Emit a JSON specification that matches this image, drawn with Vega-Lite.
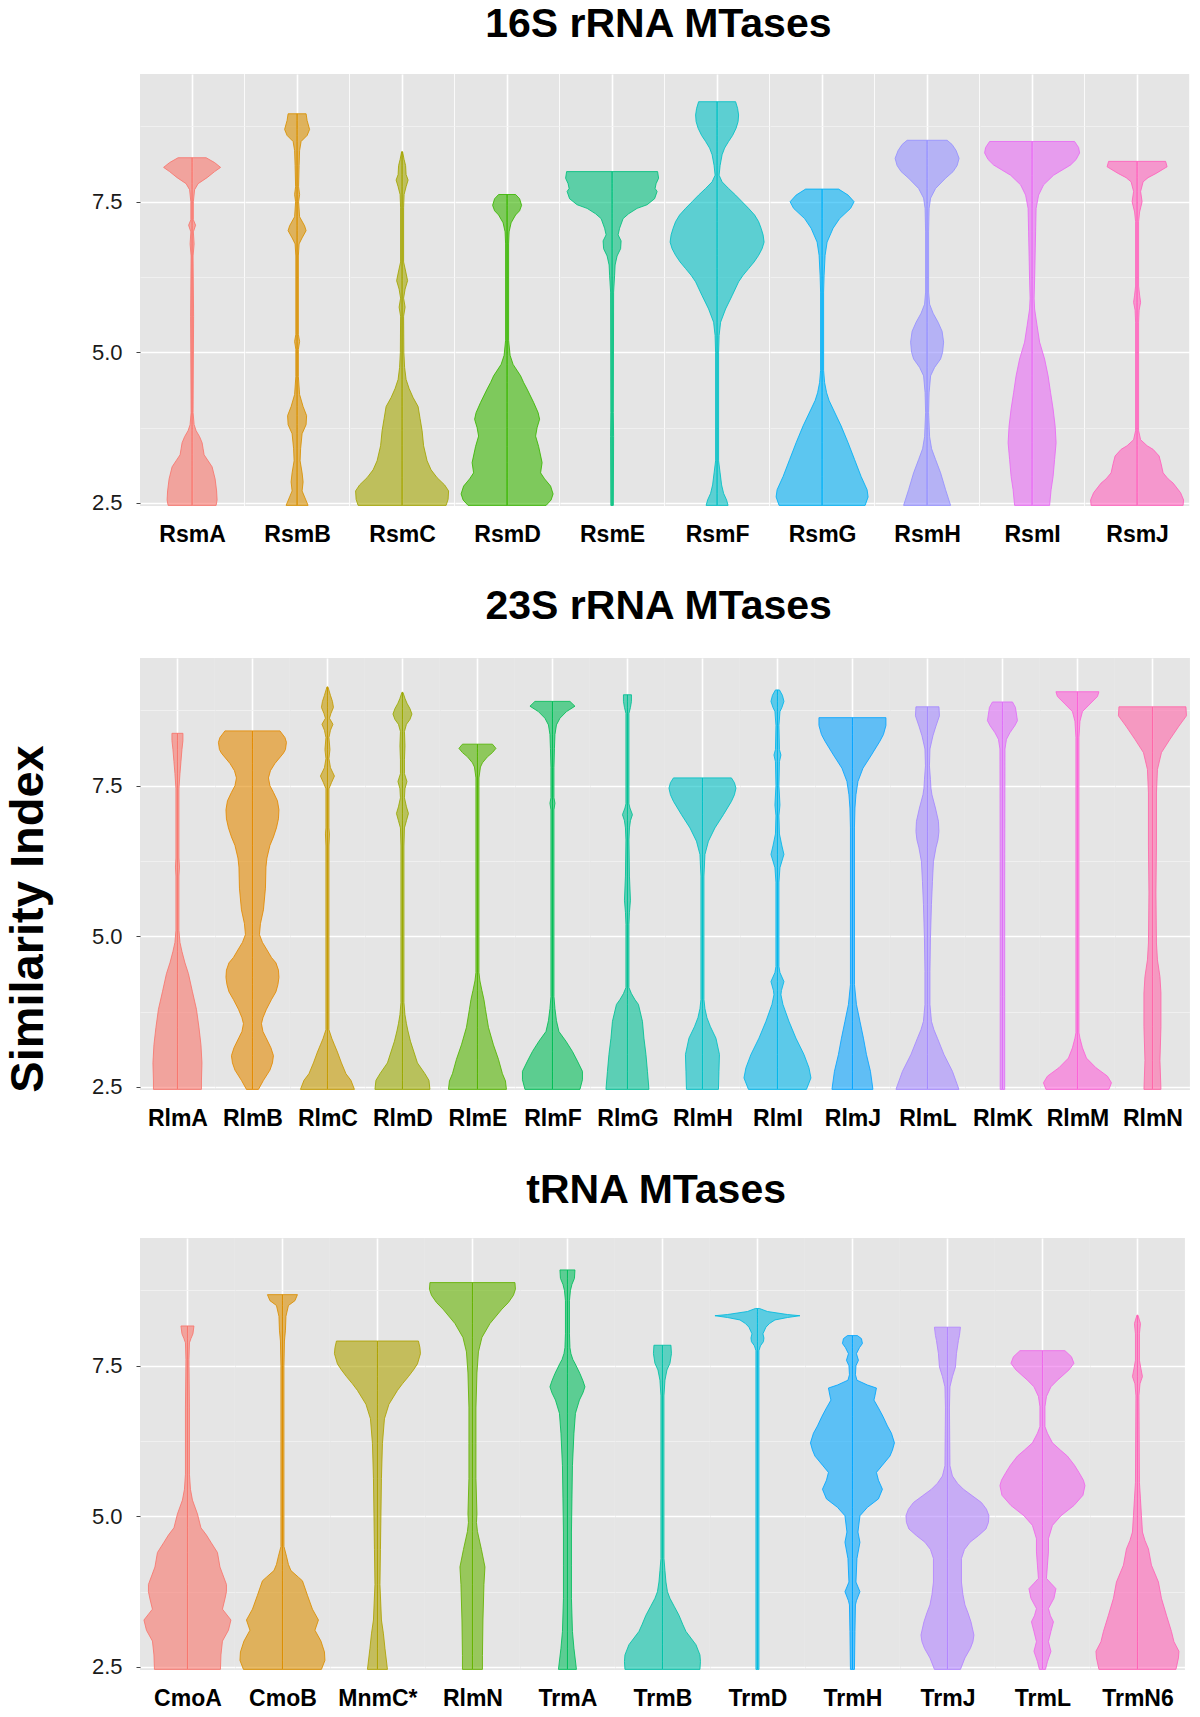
{
"$schema": "https://vega.github.io/schema/vega-lite/v6.json",
"background": "white",
"padding": {"left": 5, "top": 4, "right": 0, "bottom": 0},
"title": {"text": "Similarity Index", "orient": "left", "anchor": "middle", "fontSize": 47, "fontWeight": "bold", "color": "#000", "font": "Liberation Sans", "offset": 38, "dx": -62},
"datasets": {
"p1": [
{"g":"RsmA","y":8.23,"w":28},{"g":"RsmA","y":8.15,"w":45},{"g":"RsmA","y":8.07,"w":57},{"g":"RsmA","y":8.0,"w":45},{"g":"RsmA","y":7.9,"w":30},{"g":"RsmA","y":7.8,"w":12},{"g":"RsmA","y":7.7,"w":5},{"g":"RsmA","y":7.5,"w":2.5},{"g":"RsmA","y":7.2,"w":2.5},{"g":"RsmA","y":7.11,"w":7},{"g":"RsmA","y":7.0,"w":2.5},{"g":"RsmA","y":6.8,"w":4},{"g":"RsmA","y":6.6,"w":2},{"g":"RsmA","y":5.6,"w":3},{"g":"RsmA","y":4.0,"w":2},{"g":"RsmA","y":3.8,"w":4},{"g":"RsmA","y":3.7,"w":8},{"g":"RsmA","y":3.6,"w":15},{"g":"RsmA","y":3.5,"w":20},{"g":"RsmA","y":3.4,"w":22},{"g":"RsmA","y":3.3,"w":24},{"g":"RsmA","y":3.2,"w":32},{"g":"RsmA","y":3.1,"w":40},{"g":"RsmA","y":2.9,"w":46},{"g":"RsmA","y":2.7,"w":49},{"g":"RsmA","y":2.55,"w":50},{"g":"RsmA","y":2.46,"w":48},
{"g":"RsmB","y":8.96,"w":18},{"g":"RsmB","y":8.85,"w":20},{"g":"RsmB","y":8.7,"w":25},{"g":"RsmB","y":8.6,"w":20},{"g":"RsmB","y":8.5,"w":8},{"g":"RsmB","y":8.35,"w":5},{"g":"RsmB","y":8.1,"w":4},{"g":"RsmB","y":7.75,"w":3},{"g":"RsmB","y":7.62,"w":5},{"g":"RsmB","y":7.5,"w":3},{"g":"RsmB","y":7.25,"w":5},{"g":"RsmB","y":7.1,"w":15},{"g":"RsmB","y":7.02,"w":18},{"g":"RsmB","y":6.9,"w":10},{"g":"RsmB","y":6.8,"w":4},{"g":"RsmB","y":6.6,"w":2.5},{"g":"RsmB","y":5.3,"w":2.5},{"g":"RsmB","y":5.18,"w":5},{"g":"RsmB","y":5.05,"w":2.5},{"g":"RsmB","y":4.6,"w":2.5},{"g":"RsmB","y":4.3,"w":5},{"g":"RsmB","y":4.1,"w":12},{"g":"RsmB","y":3.95,"w":19},{"g":"RsmB","y":3.8,"w":18},{"g":"RsmB","y":3.65,"w":10},{"g":"RsmB","y":3.4,"w":7},{"g":"RsmB","y":3.2,"w":6},{"g":"RsmB","y":3.0,"w":10},{"g":"RsmB","y":2.85,"w":12},{"g":"RsmB","y":2.7,"w":10},{"g":"RsmB","y":2.6,"w":15},{"g":"RsmB","y":2.46,"w":22},
{"g":"RsmC","y":8.33,"w":1},{"g":"RsmC","y":8.2,"w":4},{"g":"RsmC","y":8.1,"w":7},{"g":"RsmC","y":7.95,"w":8},{"g":"RsmC","y":7.86,"w":12},{"g":"RsmC","y":7.75,"w":8},{"g":"RsmC","y":7.62,"w":4},{"g":"RsmC","y":7.4,"w":3},{"g":"RsmC","y":6.5,"w":3},{"g":"RsmC","y":6.35,"w":7},{"g":"RsmC","y":6.19,"w":11},{"g":"RsmC","y":6.05,"w":6},{"g":"RsmC","y":5.9,"w":3},{"g":"RsmC","y":5.75,"w":6},{"g":"RsmC","y":5.6,"w":3},{"g":"RsmC","y":5.0,"w":3.5},{"g":"RsmC","y":4.75,"w":5},{"g":"RsmC","y":4.55,"w":8},{"g":"RsmC","y":4.4,"w":14},{"g":"RsmC","y":4.25,"w":22},{"g":"RsmC","y":4.1,"w":32},{"g":"RsmC","y":3.9,"w":36},{"g":"RsmC","y":3.7,"w":40},{"g":"RsmC","y":3.45,"w":43},{"g":"RsmC","y":3.2,"w":50},{"g":"RsmC","y":3.05,"w":58},{"g":"RsmC","y":2.92,"w":70},{"g":"RsmC","y":2.8,"w":85},{"g":"RsmC","y":2.7,"w":93},{"g":"RsmC","y":2.56,"w":92},{"g":"RsmC","y":2.46,"w":88},
{"g":"RsmD","y":7.62,"w":17},{"g":"RsmD","y":7.55,"w":25},{"g":"RsmD","y":7.44,"w":29},{"g":"RsmD","y":7.35,"w":25},{"g":"RsmD","y":7.28,"w":17},{"g":"RsmD","y":7.15,"w":8},{"g":"RsmD","y":7.0,"w":4},{"g":"RsmD","y":6.8,"w":3},{"g":"RsmD","y":5.2,"w":3},{"g":"RsmD","y":4.95,"w":6},{"g":"RsmD","y":4.8,"w":12},{"g":"RsmD","y":4.61,"w":27},{"g":"RsmD","y":4.5,"w":33},{"g":"RsmD","y":4.39,"w":40},{"g":"RsmD","y":4.17,"w":53},{"g":"RsmD","y":4.0,"w":62},{"g":"RsmD","y":3.89,"w":65},{"g":"RsmD","y":3.75,"w":60},{"g":"RsmD","y":3.61,"w":57},{"g":"RsmD","y":3.44,"w":63},{"g":"RsmD","y":3.17,"w":70},{"g":"RsmD","y":3.0,"w":67},{"g":"RsmD","y":2.9,"w":75},{"g":"RsmD","y":2.78,"w":87},{"g":"RsmD","y":2.65,"w":92},{"g":"RsmD","y":2.55,"w":88},{"g":"RsmD","y":2.46,"w":78},
{"g":"RsmE","y":8.0,"w":91},{"g":"RsmE","y":7.89,"w":93},{"g":"RsmE","y":7.8,"w":88},{"g":"RsmE","y":7.72,"w":86},{"g":"RsmE","y":7.67,"w":90},{"g":"RsmE","y":7.55,"w":85},{"g":"RsmE","y":7.45,"w":70},{"g":"RsmE","y":7.39,"w":50},{"g":"RsmE","y":7.3,"w":33},{"g":"RsmE","y":7.22,"w":22},{"g":"RsmE","y":7.06,"w":15},{"g":"RsmE","y":6.95,"w":12},{"g":"RsmE","y":6.85,"w":18},{"g":"RsmE","y":6.72,"w":17},{"g":"RsmE","y":6.6,"w":10},{"g":"RsmE","y":6.45,"w":6},{"g":"RsmE","y":6.28,"w":5},{"g":"RsmE","y":6.0,"w":3},{"g":"RsmE","y":4.0,"w":2.5},{"g":"RsmE","y":3.6,"w":3},{"g":"RsmE","y":2.46,"w":2.5},
{"g":"RsmF","y":9.16,"w":37},{"g":"RsmF","y":9.05,"w":41},{"g":"RsmF","y":8.94,"w":43},{"g":"RsmF","y":8.83,"w":42},{"g":"RsmF","y":8.72,"w":38},{"g":"RsmF","y":8.6,"w":31},{"g":"RsmF","y":8.5,"w":23},{"g":"RsmF","y":8.39,"w":15},{"g":"RsmF","y":8.28,"w":10},{"g":"RsmF","y":8.1,"w":6},{"g":"RsmF","y":7.94,"w":4},{"g":"RsmF","y":7.83,"w":10},{"g":"RsmF","y":7.72,"w":23},{"g":"RsmF","y":7.61,"w":37},{"g":"RsmF","y":7.5,"w":50},{"g":"RsmF","y":7.39,"w":63},{"g":"RsmF","y":7.28,"w":75},{"g":"RsmF","y":7.17,"w":83},{"g":"RsmF","y":7.06,"w":88},{"g":"RsmF","y":6.95,"w":92},{"g":"RsmF","y":6.83,"w":94},{"g":"RsmF","y":6.72,"w":90},{"g":"RsmF","y":6.61,"w":83},{"g":"RsmF","y":6.5,"w":74},{"g":"RsmF","y":6.39,"w":63},{"g":"RsmF","y":6.28,"w":52},{"g":"RsmF","y":6.17,"w":43},{"g":"RsmF","y":5.94,"w":30},{"g":"RsmF","y":5.72,"w":17},{"g":"RsmF","y":5.5,"w":7},{"g":"RsmF","y":5.28,"w":4},{"g":"RsmF","y":5.0,"w":3},{"g":"RsmF","y":3.2,"w":3},{"g":"RsmF","y":3.0,"w":6},{"g":"RsmF","y":2.8,"w":9},{"g":"RsmF","y":2.66,"w":13},{"g":"RsmF","y":2.55,"w":19},{"g":"RsmF","y":2.46,"w":22},
{"g":"RsmG","y":7.71,"w":33},{"g":"RsmG","y":7.61,"w":52},{"g":"RsmG","y":7.5,"w":64},{"g":"RsmG","y":7.39,"w":57},{"g":"RsmG","y":7.22,"w":35},{"g":"RsmG","y":7.06,"w":22},{"g":"RsmG","y":6.83,"w":10},{"g":"RsmG","y":6.61,"w":6},{"g":"RsmG","y":6.28,"w":4},{"g":"RsmG","y":6.0,"w":3},{"g":"RsmG","y":4.7,"w":3},{"g":"RsmG","y":4.5,"w":5},{"g":"RsmG","y":4.33,"w":9},{"g":"RsmG","y":4.2,"w":14},{"g":"RsmG","y":4.06,"w":22},{"g":"RsmG","y":3.78,"w":38},{"g":"RsmG","y":3.5,"w":52},{"g":"RsmG","y":3.22,"w":65},{"g":"RsmG","y":2.94,"w":78},{"g":"RsmG","y":2.72,"w":90},{"g":"RsmG","y":2.6,"w":92},{"g":"RsmG","y":2.46,"w":86},
{"g":"RsmH","y":8.52,"w":40},{"g":"RsmH","y":8.45,"w":50},{"g":"RsmH","y":8.35,"w":58},{"g":"RsmH","y":8.22,"w":64},{"g":"RsmH","y":8.1,"w":60},{"g":"RsmH","y":8.0,"w":52},{"g":"RsmH","y":7.89,"w":37},{"g":"RsmH","y":7.72,"w":17},{"g":"RsmH","y":7.56,"w":7},{"g":"RsmH","y":7.39,"w":4},{"g":"RsmH","y":7.0,"w":3},{"g":"RsmH","y":6.0,"w":3},{"g":"RsmH","y":5.8,"w":5},{"g":"RsmH","y":5.65,"w":12},{"g":"RsmH","y":5.5,"w":22},{"g":"RsmH","y":5.35,"w":30},{"g":"RsmH","y":5.17,"w":33},{"g":"RsmH","y":5.0,"w":31},{"g":"RsmH","y":4.89,"w":27},{"g":"RsmH","y":4.75,"w":15},{"g":"RsmH","y":4.61,"w":7},{"g":"RsmH","y":4.33,"w":4},{"g":"RsmH","y":4.0,"w":3},{"g":"RsmH","y":3.6,"w":5},{"g":"RsmH","y":3.4,"w":9},{"g":"RsmH","y":3.22,"w":17},{"g":"RsmH","y":3.0,"w":27},{"g":"RsmH","y":2.72,"w":37},{"g":"RsmH","y":2.46,"w":47},
{"g":"RsmI","y":8.5,"w":85},{"g":"RsmI","y":8.4,"w":93},{"g":"RsmI","y":8.31,"w":95},{"g":"RsmI","y":8.2,"w":88},{"g":"RsmI","y":8.11,"w":77},{"g":"RsmI","y":7.94,"w":43},{"g":"RsmI","y":7.78,"w":23},{"g":"RsmI","y":7.61,"w":13},{"g":"RsmI","y":7.39,"w":8},{"g":"RsmI","y":7.0,"w":7},{"g":"RsmI","y":6.6,"w":6},{"g":"RsmI","y":6.2,"w":5},{"g":"RsmI","y":5.9,"w":4},{"g":"RsmI","y":5.72,"w":5},{"g":"RsmI","y":5.44,"w":10},{"g":"RsmI","y":5.17,"w":15},{"g":"RsmI","y":4.89,"w":25},{"g":"RsmI","y":4.61,"w":32},{"g":"RsmI","y":4.33,"w":37},{"g":"RsmI","y":4.06,"w":42},{"g":"RsmI","y":3.78,"w":46},{"g":"RsmI","y":3.5,"w":48},{"g":"RsmI","y":3.22,"w":45},{"g":"RsmI","y":2.94,"w":42},{"g":"RsmI","y":2.72,"w":38},{"g":"RsmI","y":2.46,"w":35},
{"g":"RsmJ","y":8.17,"w":57},{"g":"RsmJ","y":8.08,"w":60},{"g":"RsmJ","y":7.97,"w":38},{"g":"RsmJ","y":7.9,"w":22},{"g":"RsmJ","y":7.83,"w":12},{"g":"RsmJ","y":7.67,"w":7},{"g":"RsmJ","y":7.5,"w":10},{"g":"RsmJ","y":7.33,"w":5},{"g":"RsmJ","y":7.17,"w":3},{"g":"RsmJ","y":6.1,"w":3},{"g":"RsmJ","y":5.95,"w":5},{"g":"RsmJ","y":5.83,"w":7},{"g":"RsmJ","y":5.7,"w":4},{"g":"RsmJ","y":5.5,"w":3},{"g":"RsmJ","y":3.7,"w":3},{"g":"RsmJ","y":3.55,"w":7},{"g":"RsmJ","y":3.45,"w":20},{"g":"RsmJ","y":3.39,"w":32},{"g":"RsmJ","y":3.28,"w":44},{"g":"RsmJ","y":3.15,"w":48},{"g":"RsmJ","y":3.0,"w":52},{"g":"RsmJ","y":2.9,"w":62},{"g":"RsmJ","y":2.83,"w":72},{"g":"RsmJ","y":2.67,"w":87},{"g":"RsmJ","y":2.55,"w":93},{"g":"RsmJ","y":2.46,"w":92}
],
"p2": [
{"g":"RlmA","y":8.37,"w":11},{"g":"RlmA","y":8.25,"w":11},{"g":"RlmA","y":8.1,"w":9},{"g":"RlmA","y":7.9,"w":7},{"g":"RlmA","y":7.7,"w":5},{"g":"RlmA","y":7.45,"w":3},{"g":"RlmA","y":6.3,"w":3},{"g":"RlmA","y":6.15,"w":4},{"g":"RlmA","y":6.0,"w":3},{"g":"RlmA","y":5.1,"w":3},{"g":"RlmA","y":4.9,"w":5},{"g":"RlmA","y":4.75,"w":9},{"g":"RlmA","y":4.56,"w":15},{"g":"RlmA","y":4.38,"w":22},{"g":"RlmA","y":4.08,"w":30},{"g":"RlmA","y":3.79,"w":38},{"g":"RlmA","y":3.49,"w":43},{"g":"RlmA","y":3.2,"w":47},{"g":"RlmA","y":2.9,"w":49},{"g":"RlmA","y":2.6,"w":48},{"g":"RlmA","y":2.46,"w":48},
{"g":"RlmB","y":8.41,"w":55},{"g":"RlmB","y":8.3,"w":65},{"g":"RlmB","y":8.22,"w":68},{"g":"RlmB","y":8.1,"w":66},{"g":"RlmB","y":8.04,"w":62},{"g":"RlmB","y":7.87,"w":45},{"g":"RlmB","y":7.75,"w":36},{"g":"RlmB","y":7.63,"w":32},{"g":"RlmB","y":7.5,"w":35},{"g":"RlmB","y":7.39,"w":42},{"g":"RlmB","y":7.25,"w":50},{"g":"RlmB","y":7.1,"w":53},{"g":"RlmB","y":6.95,"w":52},{"g":"RlmB","y":6.8,"w":48},{"g":"RlmB","y":6.65,"w":42},{"g":"RlmB","y":6.51,"w":35},{"g":"RlmB","y":6.3,"w":29},{"g":"RlmB","y":6.15,"w":27},{"g":"RlmB","y":5.8,"w":26},{"g":"RlmB","y":5.44,"w":22},{"g":"RlmB","y":5.21,"w":16},{"g":"RlmB","y":5.03,"w":14},{"g":"RlmB","y":4.9,"w":20},{"g":"RlmB","y":4.79,"w":28},{"g":"RlmB","y":4.65,"w":38},{"g":"RlmB","y":4.56,"w":47},{"g":"RlmB","y":4.44,"w":52},{"g":"RlmB","y":4.32,"w":53},{"g":"RlmB","y":4.2,"w":51},{"g":"RlmB","y":4.08,"w":47},{"g":"RlmB","y":3.95,"w":38},{"g":"RlmB","y":3.79,"w":28},{"g":"RlmB","y":3.65,"w":21},{"g":"RlmB","y":3.55,"w":18},{"g":"RlmB","y":3.42,"w":21},{"g":"RlmB","y":3.32,"w":27},{"g":"RlmB","y":3.15,"w":37},{"g":"RlmB","y":3.02,"w":42},{"g":"RlmB","y":2.9,"w":40},{"g":"RlmB","y":2.78,"w":35},{"g":"RlmB","y":2.61,"w":22},{"g":"RlmB","y":2.46,"w":12},
{"g":"RlmC","y":9.14,"w":1},{"g":"RlmC","y":9.0,"w":6},{"g":"RlmC","y":8.9,"w":10},{"g":"RlmC","y":8.8,"w":12},{"g":"RlmC","y":8.7,"w":7},{"g":"RlmC","y":8.62,"w":4},{"g":"RlmC","y":8.52,"w":11},{"g":"RlmC","y":8.42,"w":6},{"g":"RlmC","y":8.3,"w":3},{"g":"RlmC","y":8.1,"w":5},{"g":"RlmC","y":7.95,"w":3},{"g":"RlmC","y":7.8,"w":6},{"g":"RlmC","y":7.66,"w":14},{"g":"RlmC","y":7.55,"w":8},{"g":"RlmC","y":7.45,"w":3},{"g":"RlmC","y":6.8,"w":3},{"g":"RlmC","y":6.7,"w":4},{"g":"RlmC","y":6.5,"w":3},{"g":"RlmC","y":3.45,"w":3},{"g":"RlmC","y":3.3,"w":9},{"g":"RlmC","y":3.2,"w":14},{"g":"RlmC","y":3.08,"w":20},{"g":"RlmC","y":2.9,"w":28},{"g":"RlmC","y":2.72,"w":37},{"g":"RlmC","y":2.61,"w":47},{"g":"RlmC","y":2.46,"w":54},
{"g":"RlmD","y":9.05,"w":1},{"g":"RlmD","y":8.95,"w":5},{"g":"RlmD","y":8.87,"w":9},{"g":"RlmD","y":8.78,"w":15},{"g":"RlmD","y":8.69,"w":19},{"g":"RlmD","y":8.6,"w":15},{"g":"RlmD","y":8.52,"w":8},{"g":"RlmD","y":8.4,"w":4},{"g":"RlmD","y":8.16,"w":5},{"g":"RlmD","y":7.93,"w":4},{"g":"RlmD","y":7.7,"w":4},{"g":"RlmD","y":7.57,"w":9},{"g":"RlmD","y":7.45,"w":5},{"g":"RlmD","y":7.3,"w":4},{"g":"RlmD","y":7.15,"w":8},{"g":"RlmD","y":7.04,"w":12},{"g":"RlmD","y":6.92,"w":8},{"g":"RlmD","y":6.8,"w":4},{"g":"RlmD","y":6.5,"w":3},{"g":"RlmD","y":3.9,"w":3},{"g":"RlmD","y":3.7,"w":5},{"g":"RlmD","y":3.55,"w":8},{"g":"RlmD","y":3.43,"w":11},{"g":"RlmD","y":3.26,"w":16},{"g":"RlmD","y":3.08,"w":23},{"g":"RlmD","y":2.9,"w":30},{"g":"RlmD","y":2.72,"w":45},{"g":"RlmD","y":2.61,"w":53},{"g":"RlmD","y":2.46,"w":55},
{"g":"RlmE","y":8.19,"w":30},{"g":"RlmE","y":8.12,"w":37},{"g":"RlmE","y":8.05,"w":30},{"g":"RlmE","y":7.98,"w":20},{"g":"RlmE","y":7.88,"w":10},{"g":"RlmE","y":7.81,"w":6},{"g":"RlmE","y":7.63,"w":3},{"g":"RlmE","y":4.4,"w":3},{"g":"RlmE","y":4.26,"w":5},{"g":"RlmE","y":4.1,"w":9},{"g":"RlmE","y":3.95,"w":13},{"g":"RlmE","y":3.79,"w":16},{"g":"RlmE","y":3.49,"w":22},{"g":"RlmE","y":3.2,"w":32},{"g":"RlmE","y":2.96,"w":42},{"g":"RlmE","y":2.72,"w":50},{"g":"RlmE","y":2.6,"w":56},{"g":"RlmE","y":2.46,"w":58},
{"g":"RlmF","y":8.9,"w":35},{"g":"RlmF","y":8.82,"w":45},{"g":"RlmF","y":8.73,"w":28},{"g":"RlmF","y":8.62,"w":15},{"g":"RlmF","y":8.51,"w":8},{"g":"RlmF","y":8.35,"w":5},{"g":"RlmF","y":8.12,"w":4},{"g":"RlmF","y":7.8,"w":3},{"g":"RlmF","y":7.3,"w":3},{"g":"RlmF","y":7.21,"w":5},{"g":"RlmF","y":7.1,"w":3},{"g":"RlmF","y":4.0,"w":3},{"g":"RlmF","y":3.8,"w":5},{"g":"RlmF","y":3.6,"w":8},{"g":"RlmF","y":3.42,"w":13},{"g":"RlmF","y":3.26,"w":27},{"g":"RlmF","y":3.09,"w":40},{"g":"RlmF","y":2.93,"w":50},{"g":"RlmF","y":2.76,"w":60},{"g":"RlmF","y":2.62,"w":60},{"g":"RlmF","y":2.46,"w":55},
{"g":"RlmG","y":9.01,"w":8},{"g":"RlmG","y":8.9,"w":8},{"g":"RlmG","y":8.8,"w":6},{"g":"RlmG","y":8.7,"w":3},{"g":"RlmG","y":7.2,"w":3},{"g":"RlmG","y":7.13,"w":5},{"g":"RlmG","y":7.02,"w":10},{"g":"RlmG","y":6.92,"w":6},{"g":"RlmG","y":6.8,"w":4},{"g":"RlmG","y":6.6,"w":3},{"g":"RlmG","y":6.0,"w":4},{"g":"RlmG","y":5.6,"w":6},{"g":"RlmG","y":5.4,"w":4},{"g":"RlmG","y":5.2,"w":3},{"g":"RlmG","y":4.15,"w":3},{"g":"RlmG","y":4.05,"w":8},{"g":"RlmG","y":3.95,"w":15},{"g":"RlmG","y":3.87,"w":22},{"g":"RlmG","y":3.59,"w":30},{"g":"RlmG","y":3.31,"w":33},{"g":"RlmG","y":3.04,"w":37},{"g":"RlmG","y":2.76,"w":40},{"g":"RlmG","y":2.46,"w":43},
{"g":"RlmH","y":7.63,"w":58},{"g":"RlmH","y":7.55,"w":64},{"g":"RlmH","y":7.46,"w":67},{"g":"RlmH","y":7.35,"w":64},{"g":"RlmH","y":7.24,"w":58},{"g":"RlmH","y":7.02,"w":42},{"g":"RlmH","y":6.8,"w":25},{"g":"RlmH","y":6.58,"w":12},{"g":"RlmH","y":6.36,"w":5},{"g":"RlmH","y":6.0,"w":3},{"g":"RlmH","y":3.95,"w":3},{"g":"RlmH","y":3.8,"w":5},{"g":"RlmH","y":3.65,"w":9},{"g":"RlmH","y":3.5,"w":16},{"g":"RlmH","y":3.31,"w":27},{"g":"RlmH","y":3.04,"w":34},{"g":"RlmH","y":2.76,"w":33},{"g":"RlmH","y":2.46,"w":32},
{"g":"RlmI","y":9.09,"w":4},{"g":"RlmI","y":9.0,"w":10},{"g":"RlmI","y":8.9,"w":13},{"g":"RlmI","y":8.8,"w":9},{"g":"RlmI","y":8.73,"w":5},{"g":"RlmI","y":8.5,"w":3},{"g":"RlmI","y":8.1,"w":4},{"g":"RlmI","y":8.01,"w":7},{"g":"RlmI","y":7.9,"w":4},{"g":"RlmI","y":7.5,"w":3},{"g":"RlmI","y":7.18,"w":5},{"g":"RlmI","y":7.0,"w":3},{"g":"RlmI","y":6.7,"w":4},{"g":"RlmI","y":6.5,"w":9},{"g":"RlmI","y":6.36,"w":13},{"g":"RlmI","y":6.25,"w":9},{"g":"RlmI","y":6.14,"w":5},{"g":"RlmI","y":5.9,"w":3},{"g":"RlmI","y":4.5,"w":3},{"g":"RlmI","y":4.4,"w":5},{"g":"RlmI","y":4.25,"w":13},{"g":"RlmI","y":4.1,"w":8},{"g":"RlmI","y":4.03,"w":7},{"g":"RlmI","y":3.87,"w":11},{"g":"RlmI","y":3.73,"w":17},{"g":"RlmI","y":3.59,"w":23},{"g":"RlmI","y":3.31,"w":37},{"g":"RlmI","y":3.04,"w":53},{"g":"RlmI","y":2.82,"w":63},{"g":"RlmI","y":2.65,"w":67},{"g":"RlmI","y":2.46,"w":58},
{"g":"RlmJ","y":8.63,"w":67},{"g":"RlmJ","y":8.5,"w":67},{"g":"RlmJ","y":8.35,"w":62},{"g":"RlmJ","y":8.24,"w":55},{"g":"RlmJ","y":8.01,"w":38},{"g":"RlmJ","y":7.79,"w":21},{"g":"RlmJ","y":7.57,"w":11},{"g":"RlmJ","y":7.35,"w":7},{"g":"RlmJ","y":7.13,"w":5},{"g":"RlmJ","y":6.8,"w":4},{"g":"RlmJ","y":4.2,"w":4},{"g":"RlmJ","y":3.87,"w":8},{"g":"RlmJ","y":3.59,"w":15},{"g":"RlmJ","y":3.31,"w":22},{"g":"RlmJ","y":3.04,"w":28},{"g":"RlmJ","y":2.76,"w":36},{"g":"RlmJ","y":2.46,"w":41},
{"g":"RlmL","y":8.81,"w":23},{"g":"RlmL","y":8.66,"w":24},{"g":"RlmL","y":8.49,"w":17},{"g":"RlmL","y":8.33,"w":11},{"g":"RlmL","y":8.11,"w":5},{"g":"RlmL","y":7.83,"w":4},{"g":"RlmL","y":7.6,"w":6},{"g":"RlmL","y":7.46,"w":7},{"g":"RlmL","y":7.35,"w":9},{"g":"RlmL","y":7.13,"w":16},{"g":"RlmL","y":6.91,"w":22},{"g":"RlmL","y":6.74,"w":23},{"g":"RlmL","y":6.6,"w":21},{"g":"RlmL","y":6.47,"w":17},{"g":"RlmL","y":6.24,"w":12},{"g":"RlmL","y":5.91,"w":10},{"g":"RlmL","y":5.53,"w":8},{"g":"RlmL","y":4.97,"w":6},{"g":"RlmL","y":4.42,"w":5},{"g":"RlmL","y":3.87,"w":5},{"g":"RlmL","y":3.59,"w":8},{"g":"RlmL","y":3.45,"w":13},{"g":"RlmL","y":3.31,"w":20},{"g":"RlmL","y":3.04,"w":33},{"g":"RlmL","y":2.76,"w":50},{"g":"RlmL","y":2.46,"w":63},
{"g":"RlmK","y":8.89,"w":20},{"g":"RlmK","y":8.8,"w":26},{"g":"RlmK","y":8.69,"w":28},{"g":"RlmK","y":8.58,"w":30},{"g":"RlmK","y":8.5,"w":25},{"g":"RlmK","y":8.38,"w":15},{"g":"RlmK","y":8.27,"w":8},{"g":"RlmK","y":8.11,"w":5},{"g":"RlmK","y":6.0,"w":4.5},{"g":"RlmK","y":4.0,"w":4.5},{"g":"RlmK","y":2.46,"w":4.5},
{"g":"RlmM","y":9.06,"w":43},{"g":"RlmM","y":8.98,"w":40},{"g":"RlmM","y":8.84,"w":23},{"g":"RlmM","y":8.73,"w":10},{"g":"RlmM","y":8.57,"w":5},{"g":"RlmM","y":8.3,"w":3},{"g":"RlmM","y":3.4,"w":3},{"g":"RlmM","y":3.31,"w":5},{"g":"RlmM","y":3.15,"w":10},{"g":"RlmM","y":2.98,"w":18},{"g":"RlmM","y":2.82,"w":37},{"g":"RlmM","y":2.68,"w":60},{"g":"RlmM","y":2.57,"w":68},{"g":"RlmM","y":2.46,"w":63},
{"g":"RlmN","y":8.81,"w":67},{"g":"RlmN","y":8.66,"w":68},{"g":"RlmN","y":8.49,"w":53},{"g":"RlmN","y":8.27,"w":35},{"g":"RlmN","y":8.05,"w":18},{"g":"RlmN","y":7.77,"w":10},{"g":"RlmN","y":7.38,"w":8},{"g":"RlmN","y":6.5,"w":8},{"g":"RlmN","y":5.72,"w":7},{"g":"RlmN","y":4.89,"w":8},{"g":"RlmN","y":4.61,"w":10},{"g":"RlmN","y":4.33,"w":15},{"g":"RlmN","y":4.06,"w":17},{"g":"RlmN","y":3.5,"w":17},{"g":"RlmN","y":2.94,"w":15},{"g":"RlmN","y":2.46,"w":17}
],
"p3": [
{"g":"CmoA","y":8.16,"w":13},{"g":"CmoA","y":8.03,"w":11},{"g":"CmoA","y":7.95,"w":7},{"g":"CmoA","y":7.88,"w":4},{"g":"CmoA","y":7.6,"w":3},{"g":"CmoA","y":6.8,"w":4},{"g":"CmoA","y":5.7,"w":4},{"g":"CmoA","y":5.45,"w":6},{"g":"CmoA","y":5.27,"w":10},{"g":"CmoA","y":5.04,"w":20},{"g":"CmoA","y":4.81,"w":27},{"g":"CmoA","y":4.69,"w":38},{"g":"CmoA","y":4.57,"w":47},{"g":"CmoA","y":4.4,"w":60},{"g":"CmoA","y":4.16,"w":65},{"g":"CmoA","y":3.87,"w":78},{"g":"CmoA","y":3.75,"w":78},{"g":"CmoA","y":3.63,"w":75},{"g":"CmoA","y":3.46,"w":70},{"g":"CmoA","y":3.28,"w":87},{"g":"CmoA","y":3.11,"w":82},{"g":"CmoA","y":2.93,"w":70},{"g":"CmoA","y":2.7,"w":67},{"g":"CmoA","y":2.46,"w":66},
{"g":"CmoB","y":8.68,"w":30},{"g":"CmoB","y":8.58,"w":25},{"g":"CmoB","y":8.5,"w":12},{"g":"CmoB","y":8.32,"w":7},{"g":"CmoB","y":8.09,"w":6},{"g":"CmoB","y":7.91,"w":4},{"g":"CmoB","y":7.5,"w":3},{"g":"CmoB","y":4.5,"w":3},{"g":"CmoB","y":4.34,"w":8},{"g":"CmoB","y":4.2,"w":12},{"g":"CmoB","y":4.1,"w":17},{"g":"CmoB","y":3.99,"w":32},{"g":"CmoB","y":3.93,"w":40},{"g":"CmoB","y":3.69,"w":50},{"g":"CmoB","y":3.46,"w":60},{"g":"CmoB","y":3.28,"w":72},{"g":"CmoB","y":3.11,"w":65},{"g":"CmoB","y":2.93,"w":77},{"g":"CmoB","y":2.75,"w":84},{"g":"CmoB","y":2.61,"w":85},{"g":"CmoB","y":2.46,"w":78},
{"g":"MnmC*","y":7.91,"w":82},{"g":"MnmC*","y":7.8,"w":85},{"g":"MnmC*","y":7.7,"w":86},{"g":"MnmC*","y":7.53,"w":80},{"g":"MnmC*","y":7.43,"w":72},{"g":"MnmC*","y":7.32,"w":62},{"g":"MnmC*","y":7.2,"w":50},{"g":"MnmC*","y":7.09,"w":40},{"g":"MnmC*","y":6.86,"w":23},{"g":"MnmC*","y":6.62,"w":14},{"g":"MnmC*","y":6.21,"w":10},{"g":"MnmC*","y":5.63,"w":8},{"g":"MnmC*","y":5.04,"w":7},{"g":"MnmC*","y":4.45,"w":6},{"g":"MnmC*","y":3.87,"w":5},{"g":"MnmC*","y":3.28,"w":8},{"g":"MnmC*","y":3.05,"w":12},{"g":"MnmC*","y":2.81,"w":15},{"g":"MnmC*","y":2.46,"w":20},
{"g":"RlmN","y":8.88,"w":85},{"g":"RlmN","y":8.77,"w":86},{"g":"RlmN","y":8.67,"w":82},{"g":"RlmN","y":8.55,"w":72},{"g":"RlmN","y":8.44,"w":59},{"g":"RlmN","y":8.2,"w":35},{"g":"RlmN","y":7.97,"w":19},{"g":"RlmN","y":7.73,"w":12},{"g":"RlmN","y":7.38,"w":9},{"g":"RlmN","y":6.8,"w":7},{"g":"RlmN","y":6.21,"w":7},{"g":"RlmN","y":5.63,"w":7},{"g":"RlmN","y":5.04,"w":9},{"g":"RlmN","y":4.9,"w":8},{"g":"RlmN","y":4.75,"w":10},{"g":"RlmN","y":4.45,"w":18},{"g":"RlmN","y":4.16,"w":25},{"g":"RlmN","y":3.87,"w":23},{"g":"RlmN","y":3.28,"w":21},{"g":"RlmN","y":2.69,"w":20},{"g":"RlmN","y":2.46,"w":20},
{"g":"TrmA","y":9.09,"w":15},{"g":"TrmA","y":8.95,"w":14},{"g":"TrmA","y":8.85,"w":9},{"g":"TrmA","y":8.75,"w":6},{"g":"TrmA","y":8.58,"w":4},{"g":"TrmA","y":8.03,"w":4},{"g":"TrmA","y":7.8,"w":5},{"g":"TrmA","y":7.7,"w":7},{"g":"TrmA","y":7.6,"w":11},{"g":"TrmA","y":7.54,"w":15},{"g":"TrmA","y":7.37,"w":25},{"g":"TrmA","y":7.25,"w":31},{"g":"TrmA","y":7.15,"w":35},{"g":"TrmA","y":7.05,"w":31},{"g":"TrmA","y":6.93,"w":24},{"g":"TrmA","y":6.71,"w":16},{"g":"TrmA","y":6.38,"w":13},{"g":"TrmA","y":5.84,"w":10},{"g":"TrmA","y":5.29,"w":9},{"g":"TrmA","y":4.74,"w":8},{"g":"TrmA","y":4.19,"w":8},{"g":"TrmA","y":3.64,"w":8},{"g":"TrmA","y":3.09,"w":10},{"g":"TrmA","y":2.81,"w":13},{"g":"TrmA","y":2.46,"w":18},
{"g":"TrmB","y":7.84,"w":17},{"g":"TrmB","y":7.7,"w":18},{"g":"TrmB","y":7.54,"w":15},{"g":"TrmB","y":7.43,"w":9},{"g":"TrmB","y":7.26,"w":5},{"g":"TrmB","y":7.0,"w":3},{"g":"TrmB","y":4.3,"w":3},{"g":"TrmB","y":4.1,"w":5},{"g":"TrmB","y":3.91,"w":7},{"g":"TrmB","y":3.75,"w":10},{"g":"TrmB","y":3.64,"w":15},{"g":"TrmB","y":3.5,"w":24},{"g":"TrmB","y":3.36,"w":33},{"g":"TrmB","y":3.2,"w":41},{"g":"TrmB","y":3.09,"w":47},{"g":"TrmB","y":2.98,"w":57},{"g":"TrmB","y":2.87,"w":67},{"g":"TrmB","y":2.7,"w":75},{"g":"TrmB","y":2.59,"w":76},{"g":"TrmB","y":2.46,"w":75},
{"g":"TrmD","y":8.45,"w":4},{"g":"TrmD","y":8.4,"w":20},{"g":"TrmD","y":8.35,"w":60},{"g":"TrmD","y":8.33,"w":85},{"g":"TrmD","y":8.3,"w":60},{"g":"TrmD","y":8.26,"w":35},{"g":"TrmD","y":8.2,"w":24},{"g":"TrmD","y":8.14,"w":17},{"g":"TrmD","y":8.03,"w":11},{"g":"TrmD","y":7.96,"w":13},{"g":"TrmD","y":7.9,"w":12},{"g":"TrmD","y":7.83,"w":6},{"g":"TrmD","y":7.75,"w":3},{"g":"TrmD","y":2.46,"w":3},
{"g":"TrmH","y":8.0,"w":10},{"g":"TrmH","y":7.95,"w":18},{"g":"TrmH","y":7.87,"w":20},{"g":"TrmH","y":7.8,"w":14},{"g":"TrmH","y":7.7,"w":8},{"g":"TrmH","y":7.59,"w":12},{"g":"TrmH","y":7.5,"w":7},{"g":"TrmH","y":7.35,"w":6},{"g":"TrmH","y":7.26,"w":9},{"g":"TrmH","y":7.18,"w":30},{"g":"TrmH","y":7.13,"w":48},{"g":"TrmH","y":7.0,"w":45},{"g":"TrmH","y":6.93,"w":43},{"g":"TrmH","y":6.8,"w":52},{"g":"TrmH","y":6.66,"w":61},{"g":"TrmH","y":6.5,"w":70},{"g":"TrmH","y":6.38,"w":78},{"g":"TrmH","y":6.22,"w":84},{"g":"TrmH","y":6.1,"w":80},{"g":"TrmH","y":6.0,"w":75},{"g":"TrmH","y":5.85,"w":60},{"g":"TrmH","y":5.73,"w":48},{"g":"TrmH","y":5.6,"w":52},{"g":"TrmH","y":5.45,"w":60},{"g":"TrmH","y":5.29,"w":52},{"g":"TrmH","y":5.15,"w":30},{"g":"TrmH","y":5.01,"w":15},{"g":"TrmH","y":4.74,"w":11},{"g":"TrmH","y":4.57,"w":15},{"g":"TrmH","y":4.3,"w":9},{"g":"TrmH","y":3.91,"w":7},{"g":"TrmH","y":3.75,"w":15},{"g":"TrmH","y":3.6,"w":8},{"g":"TrmH","y":3.53,"w":6},{"g":"TrmH","y":3.09,"w":5},{"g":"TrmH","y":2.46,"w":4},
{"g":"TrmJ","y":8.14,"w":26},{"g":"TrmJ","y":8.0,"w":24},{"g":"TrmJ","y":7.92,"w":22},{"g":"TrmJ","y":7.7,"w":18},{"g":"TrmJ","y":7.48,"w":16},{"g":"TrmJ","y":7.32,"w":10},{"g":"TrmJ","y":7.15,"w":5},{"g":"TrmJ","y":6.8,"w":4},{"g":"TrmJ","y":5.84,"w":5},{"g":"TrmJ","y":5.67,"w":10},{"g":"TrmJ","y":5.55,"w":20},{"g":"TrmJ","y":5.45,"w":32},{"g":"TrmJ","y":5.34,"w":50},{"g":"TrmJ","y":5.23,"w":68},{"g":"TrmJ","y":5.12,"w":78},{"g":"TrmJ","y":5.01,"w":83},{"g":"TrmJ","y":4.9,"w":82},{"g":"TrmJ","y":4.79,"w":77},{"g":"TrmJ","y":4.68,"w":62},{"g":"TrmJ","y":4.57,"w":45},{"g":"TrmJ","y":4.45,"w":34},{"g":"TrmJ","y":4.3,"w":28},{"g":"TrmJ","y":3.91,"w":28},{"g":"TrmJ","y":3.7,"w":31},{"g":"TrmJ","y":3.53,"w":35},{"g":"TrmJ","y":3.4,"w":41},{"g":"TrmJ","y":3.25,"w":47},{"g":"TrmJ","y":3.03,"w":53},{"g":"TrmJ","y":2.92,"w":51},{"g":"TrmJ","y":2.81,"w":46},{"g":"TrmJ","y":2.65,"w":35},{"g":"TrmJ","y":2.46,"w":26},
{"g":"TrmL","y":7.75,"w":45},{"g":"TrmL","y":7.65,"w":58},{"g":"TrmL","y":7.54,"w":63},{"g":"TrmL","y":7.43,"w":53},{"g":"TrmL","y":7.26,"w":30},{"g":"TrmL","y":7.15,"w":17},{"g":"TrmL","y":6.99,"w":8},{"g":"TrmL","y":6.82,"w":5},{"g":"TrmL","y":6.49,"w":5},{"g":"TrmL","y":6.38,"w":10},{"g":"TrmL","y":6.22,"w":20},{"g":"TrmL","y":6.1,"w":36},{"g":"TrmL","y":6.0,"w":50},{"g":"TrmL","y":5.85,"w":64},{"g":"TrmL","y":5.73,"w":73},{"g":"TrmL","y":5.6,"w":82},{"g":"TrmL","y":5.51,"w":85},{"g":"TrmL","y":5.35,"w":81},{"g":"TrmL","y":5.18,"w":63},{"g":"TrmL","y":5.01,"w":37},{"g":"TrmL","y":4.85,"w":20},{"g":"TrmL","y":4.63,"w":12},{"g":"TrmL","y":4.41,"w":12},{"g":"TrmL","y":4.19,"w":10},{"g":"TrmL","y":3.97,"w":8},{"g":"TrmL","y":3.88,"w":18},{"g":"TrmL","y":3.8,"w":27},{"g":"TrmL","y":3.64,"w":23},{"g":"TrmL","y":3.47,"w":12},{"g":"TrmL","y":3.35,"w":16},{"g":"TrmL","y":3.25,"w":22},{"g":"TrmL","y":3.09,"w":17},{"g":"TrmL","y":2.92,"w":12},{"g":"TrmL","y":2.76,"w":17},{"g":"TrmL","y":2.59,"w":10},{"g":"TrmL","y":2.46,"w":6},
{"g":"TrmN6","y":8.34,"w":1},{"g":"TrmN6","y":8.2,"w":6},{"g":"TrmN6","y":8.03,"w":4},{"g":"TrmN6","y":7.59,"w":4},{"g":"TrmN6","y":7.45,"w":7},{"g":"TrmN6","y":7.32,"w":10},{"g":"TrmN6","y":7.2,"w":5},{"g":"TrmN6","y":7.0,"w":3},{"g":"TrmN6","y":5.56,"w":4},{"g":"TrmN6","y":5.29,"w":6},{"g":"TrmN6","y":5.01,"w":8},{"g":"TrmN6","y":4.74,"w":10},{"g":"TrmN6","y":4.6,"w":15},{"g":"TrmN6","y":4.46,"w":22},{"g":"TrmN6","y":4.19,"w":28},{"g":"TrmN6","y":3.91,"w":42},{"g":"TrmN6","y":3.64,"w":48},{"g":"TrmN6","y":3.36,"w":58},{"g":"TrmN6","y":3.09,"w":68},{"g":"TrmN6","y":2.92,"w":73},{"g":"TrmN6","y":2.76,"w":83},{"g":"TrmN6","y":2.65,"w":82},{"g":"TrmN6","y":2.46,"w":77}
]
},
"spacing": 40,
"resolve": {"scale": {"x": "independent", "y": "independent"}},
"vconcat": [
{
"data": {"name": "p1"},
"title": {"text": "16S rRNA MTases", "fontSize": 41, "fontWeight": "bold", "color": "#000", "anchor": "middle", "offset": 28, "dx": 18},
"spacing": 0,
"resolve": {"scale": {"x": "independent", "y": "independent"}},
"hconcat": [
{"transform":[{"filter":{"field":"g","equal":"RsmA"}}],"width":104.2,"height":432,"resolve":{"scale":{"x":"independent"}},"encoding":{"y":{"field":"y","type":"quantitative","scale":{"domain":[2.45,9.62],"nice":false,"zero":false},"axis":{"values":[2.5,3.75,5,6.25,7.5,8.75],"labelExpr":"datum.value % 2.5 == 0 ? format(datum.value, '.1f') : ''","gridColor":{"condition":{"test":"datum.value % 2.5 == 0","value":"#FFFFFF"},"value":"#F2F2F2"},"gridWidth":{"condition":{"test":"datum.value % 2.5 == 0","value":1.6},"value":0.8},"tickColor":{"condition":{"test":"datum.value % 2.5 == 0","value":"#444"},"value":"transparent"},"title":null}}},"layer":[{"mark":{"type":"area","orient":"horizontal","fill":"#F8766D","stroke":"#F8766D"},"encoding":{"x":{"field":"w","type":"quantitative","scale":{"domain":[-104.2,104.2],"nice":false},"axis":{"values":[0],"title":"RsmA"}}}},{"mark":{"type":"area","orient":"horizontal","fill":"#F8766D","stroke":"#F8766D"},"encoding":{"x":{"field":"w","type":"quantitative","scale":{"domain":[-104.2,104.2],"nice":false,"reverse":true},"axis":null}}}]},
{"transform":[{"filter":{"field":"g","equal":"RsmB"}}],"width":104.2,"height":432,"resolve":{"scale":{"x":"independent"}},"encoding":{"y":{"field":"y","type":"quantitative","scale":{"domain":[2.45,9.62],"nice":false,"zero":false},"axis":{"values":[2.5,3.75,5,6.25,7.5,8.75],"labels":false,"ticks":false,"gridColor":{"condition":{"test":"datum.value % 2.5 == 0","value":"#FFFFFF"},"value":"#F2F2F2"},"gridWidth":{"condition":{"test":"datum.value % 2.5 == 0","value":1.6},"value":0.8},"title":null}}},"layer":[{"mark":{"type":"area","orient":"horizontal","fill":"#D89000","stroke":"#D89000"},"encoding":{"x":{"field":"w","type":"quantitative","scale":{"domain":[-104.2,104.2],"nice":false},"axis":{"values":[0],"title":"RsmB"}}}},{"mark":{"type":"area","orient":"horizontal","fill":"#D89000","stroke":"#D89000"},"encoding":{"x":{"field":"w","type":"quantitative","scale":{"domain":[-104.2,104.2],"nice":false,"reverse":true},"axis":null}}}]},
{"transform":[{"filter":{"field":"g","equal":"RsmC"}}],"width":104.2,"height":432,"resolve":{"scale":{"x":"independent"}},"encoding":{"y":{"field":"y","type":"quantitative","scale":{"domain":[2.45,9.62],"nice":false,"zero":false},"axis":{"values":[2.5,3.75,5,6.25,7.5,8.75],"labels":false,"ticks":false,"gridColor":{"condition":{"test":"datum.value % 2.5 == 0","value":"#FFFFFF"},"value":"#F2F2F2"},"gridWidth":{"condition":{"test":"datum.value % 2.5 == 0","value":1.6},"value":0.8},"title":null}}},"layer":[{"mark":{"type":"area","orient":"horizontal","fill":"#A3A500","stroke":"#A3A500"},"encoding":{"x":{"field":"w","type":"quantitative","scale":{"domain":[-104.2,104.2],"nice":false},"axis":{"values":[0],"title":"RsmC"}}}},{"mark":{"type":"area","orient":"horizontal","fill":"#A3A500","stroke":"#A3A500"},"encoding":{"x":{"field":"w","type":"quantitative","scale":{"domain":[-104.2,104.2],"nice":false,"reverse":true},"axis":null}}}]},
{"transform":[{"filter":{"field":"g","equal":"RsmD"}}],"width":104.2,"height":432,"resolve":{"scale":{"x":"independent"}},"encoding":{"y":{"field":"y","type":"quantitative","scale":{"domain":[2.45,9.62],"nice":false,"zero":false},"axis":{"values":[2.5,3.75,5,6.25,7.5,8.75],"labels":false,"ticks":false,"gridColor":{"condition":{"test":"datum.value % 2.5 == 0","value":"#FFFFFF"},"value":"#F2F2F2"},"gridWidth":{"condition":{"test":"datum.value % 2.5 == 0","value":1.6},"value":0.8},"title":null}}},"layer":[{"mark":{"type":"area","orient":"horizontal","fill":"#39B600","stroke":"#39B600"},"encoding":{"x":{"field":"w","type":"quantitative","scale":{"domain":[-104.2,104.2],"nice":false},"axis":{"values":[0],"title":"RsmD"}}}},{"mark":{"type":"area","orient":"horizontal","fill":"#39B600","stroke":"#39B600"},"encoding":{"x":{"field":"w","type":"quantitative","scale":{"domain":[-104.2,104.2],"nice":false,"reverse":true},"axis":null}}}]},
{"transform":[{"filter":{"field":"g","equal":"RsmE"}}],"width":104.2,"height":432,"resolve":{"scale":{"x":"independent"}},"encoding":{"y":{"field":"y","type":"quantitative","scale":{"domain":[2.45,9.62],"nice":false,"zero":false},"axis":{"values":[2.5,3.75,5,6.25,7.5,8.75],"labels":false,"ticks":false,"gridColor":{"condition":{"test":"datum.value % 2.5 == 0","value":"#FFFFFF"},"value":"#F2F2F2"},"gridWidth":{"condition":{"test":"datum.value % 2.5 == 0","value":1.6},"value":0.8},"title":null}}},"layer":[{"mark":{"type":"area","orient":"horizontal","fill":"#00BF7D","stroke":"#00BF7D"},"encoding":{"x":{"field":"w","type":"quantitative","scale":{"domain":[-104.2,104.2],"nice":false},"axis":{"values":[0],"title":"RsmE"}}}},{"mark":{"type":"area","orient":"horizontal","fill":"#00BF7D","stroke":"#00BF7D"},"encoding":{"x":{"field":"w","type":"quantitative","scale":{"domain":[-104.2,104.2],"nice":false,"reverse":true},"axis":null}}}]},
{"transform":[{"filter":{"field":"g","equal":"RsmF"}}],"width":104.2,"height":432,"resolve":{"scale":{"x":"independent"}},"encoding":{"y":{"field":"y","type":"quantitative","scale":{"domain":[2.45,9.62],"nice":false,"zero":false},"axis":{"values":[2.5,3.75,5,6.25,7.5,8.75],"labels":false,"ticks":false,"gridColor":{"condition":{"test":"datum.value % 2.5 == 0","value":"#FFFFFF"},"value":"#F2F2F2"},"gridWidth":{"condition":{"test":"datum.value % 2.5 == 0","value":1.6},"value":0.8},"title":null}}},"layer":[{"mark":{"type":"area","orient":"horizontal","fill":"#00BFC4","stroke":"#00BFC4"},"encoding":{"x":{"field":"w","type":"quantitative","scale":{"domain":[-104.2,104.2],"nice":false},"axis":{"values":[0],"title":"RsmF"}}}},{"mark":{"type":"area","orient":"horizontal","fill":"#00BFC4","stroke":"#00BFC4"},"encoding":{"x":{"field":"w","type":"quantitative","scale":{"domain":[-104.2,104.2],"nice":false,"reverse":true},"axis":null}}}]},
{"transform":[{"filter":{"field":"g","equal":"RsmG"}}],"width":104.2,"height":432,"resolve":{"scale":{"x":"independent"}},"encoding":{"y":{"field":"y","type":"quantitative","scale":{"domain":[2.45,9.62],"nice":false,"zero":false},"axis":{"values":[2.5,3.75,5,6.25,7.5,8.75],"labels":false,"ticks":false,"gridColor":{"condition":{"test":"datum.value % 2.5 == 0","value":"#FFFFFF"},"value":"#F2F2F2"},"gridWidth":{"condition":{"test":"datum.value % 2.5 == 0","value":1.6},"value":0.8},"title":null}}},"layer":[{"mark":{"type":"area","orient":"horizontal","fill":"#00B0F6","stroke":"#00B0F6"},"encoding":{"x":{"field":"w","type":"quantitative","scale":{"domain":[-104.2,104.2],"nice":false},"axis":{"values":[0],"title":"RsmG"}}}},{"mark":{"type":"area","orient":"horizontal","fill":"#00B0F6","stroke":"#00B0F6"},"encoding":{"x":{"field":"w","type":"quantitative","scale":{"domain":[-104.2,104.2],"nice":false,"reverse":true},"axis":null}}}]},
{"transform":[{"filter":{"field":"g","equal":"RsmH"}}],"width":104.2,"height":432,"resolve":{"scale":{"x":"independent"}},"encoding":{"y":{"field":"y","type":"quantitative","scale":{"domain":[2.45,9.62],"nice":false,"zero":false},"axis":{"values":[2.5,3.75,5,6.25,7.5,8.75],"labels":false,"ticks":false,"gridColor":{"condition":{"test":"datum.value % 2.5 == 0","value":"#FFFFFF"},"value":"#F2F2F2"},"gridWidth":{"condition":{"test":"datum.value % 2.5 == 0","value":1.6},"value":0.8},"title":null}}},"layer":[{"mark":{"type":"area","orient":"horizontal","fill":"#9590FF","stroke":"#9590FF"},"encoding":{"x":{"field":"w","type":"quantitative","scale":{"domain":[-104.2,104.2],"nice":false},"axis":{"values":[0],"title":"RsmH"}}}},{"mark":{"type":"area","orient":"horizontal","fill":"#9590FF","stroke":"#9590FF"},"encoding":{"x":{"field":"w","type":"quantitative","scale":{"domain":[-104.2,104.2],"nice":false,"reverse":true},"axis":null}}}]},
{"transform":[{"filter":{"field":"g","equal":"RsmI"}}],"width":104.2,"height":432,"resolve":{"scale":{"x":"independent"}},"encoding":{"y":{"field":"y","type":"quantitative","scale":{"domain":[2.45,9.62],"nice":false,"zero":false},"axis":{"values":[2.5,3.75,5,6.25,7.5,8.75],"labels":false,"ticks":false,"gridColor":{"condition":{"test":"datum.value % 2.5 == 0","value":"#FFFFFF"},"value":"#F2F2F2"},"gridWidth":{"condition":{"test":"datum.value % 2.5 == 0","value":1.6},"value":0.8},"title":null}}},"layer":[{"mark":{"type":"area","orient":"horizontal","fill":"#E76BF3","stroke":"#E76BF3"},"encoding":{"x":{"field":"w","type":"quantitative","scale":{"domain":[-104.2,104.2],"nice":false},"axis":{"values":[0],"title":"RsmI"}}}},{"mark":{"type":"area","orient":"horizontal","fill":"#E76BF3","stroke":"#E76BF3"},"encoding":{"x":{"field":"w","type":"quantitative","scale":{"domain":[-104.2,104.2],"nice":false,"reverse":true},"axis":null}}}]},
{"transform":[{"filter":{"field":"g","equal":"RsmJ"}}],"width":104.2,"height":432,"resolve":{"scale":{"x":"independent"}},"encoding":{"y":{"field":"y","type":"quantitative","scale":{"domain":[2.45,9.62],"nice":false,"zero":false},"axis":{"values":[2.5,3.75,5,6.25,7.5,8.75],"labels":false,"ticks":false,"gridColor":{"condition":{"test":"datum.value % 2.5 == 0","value":"#FFFFFF"},"value":"#F2F2F2"},"gridWidth":{"condition":{"test":"datum.value % 2.5 == 0","value":1.6},"value":0.8},"title":null}}},"layer":[{"mark":{"type":"area","orient":"horizontal","fill":"#FF62BC","stroke":"#FF62BC"},"encoding":{"x":{"field":"w","type":"quantitative","scale":{"domain":[-104.2,104.2],"nice":false},"axis":{"values":[0],"title":"RsmJ"}}}},{"mark":{"type":"area","orient":"horizontal","fill":"#FF62BC","stroke":"#FF62BC"},"encoding":{"x":{"field":"w","type":"quantitative","scale":{"domain":[-104.2,104.2],"nice":false,"reverse":true},"axis":null}}}]}
]
},
{
"data": {"name": "p2"},
"title": {"text": "23S rRNA MTases", "fontSize": 41, "fontWeight": "bold", "color": "#000", "anchor": "middle", "offset": 30, "dx": 18},
"spacing": 0,
"resolve": {"scale": {"x": "independent", "y": "independent"}},
"hconcat": [
{"transform":[{"filter":{"field":"g","equal":"RlmA"}}],"width":74.9,"height":432,"resolve":{"scale":{"x":"independent"}},"encoding":{"y":{"field":"y","type":"quantitative","scale":{"domain":[2.45,9.62],"nice":false,"zero":false},"axis":{"values":[2.5,3.75,5,6.25,7.5,8.75],"labelExpr":"datum.value % 2.5 == 0 ? format(datum.value, '.1f') : ''","gridColor":{"condition":{"test":"datum.value % 2.5 == 0","value":"#FFFFFF"},"value":"#F2F2F2"},"gridWidth":{"condition":{"test":"datum.value % 2.5 == 0","value":1.6},"value":0.8},"tickColor":{"condition":{"test":"datum.value % 2.5 == 0","value":"#444"},"value":"transparent"},"title":null}}},"layer":[{"mark":{"type":"area","orient":"horizontal","fill":"#F8766D","stroke":"#F8766D"},"encoding":{"x":{"field":"w","type":"quantitative","scale":{"domain":[-74.9,74.9],"nice":false},"axis":{"values":[0],"title":"RlmA"}}}},{"mark":{"type":"area","orient":"horizontal","fill":"#F8766D","stroke":"#F8766D"},"encoding":{"x":{"field":"w","type":"quantitative","scale":{"domain":[-74.9,74.9],"nice":false,"reverse":true},"axis":null}}}]},
{"transform":[{"filter":{"field":"g","equal":"RlmB"}}],"width":74.9,"height":432,"resolve":{"scale":{"x":"independent"}},"encoding":{"y":{"field":"y","type":"quantitative","scale":{"domain":[2.45,9.62],"nice":false,"zero":false},"axis":{"values":[2.5,3.75,5,6.25,7.5,8.75],"labels":false,"ticks":false,"gridColor":{"condition":{"test":"datum.value % 2.5 == 0","value":"#FFFFFF"},"value":"#F2F2F2"},"gridWidth":{"condition":{"test":"datum.value % 2.5 == 0","value":1.6},"value":0.8},"title":null}}},"layer":[{"mark":{"type":"area","orient":"horizontal","fill":"#E38900","stroke":"#E38900"},"encoding":{"x":{"field":"w","type":"quantitative","scale":{"domain":[-74.9,74.9],"nice":false},"axis":{"values":[0],"title":"RlmB"}}}},{"mark":{"type":"area","orient":"horizontal","fill":"#E38900","stroke":"#E38900"},"encoding":{"x":{"field":"w","type":"quantitative","scale":{"domain":[-74.9,74.9],"nice":false,"reverse":true},"axis":null}}}]},
{"transform":[{"filter":{"field":"g","equal":"RlmC"}}],"width":74.9,"height":432,"resolve":{"scale":{"x":"independent"}},"encoding":{"y":{"field":"y","type":"quantitative","scale":{"domain":[2.45,9.62],"nice":false,"zero":false},"axis":{"values":[2.5,3.75,5,6.25,7.5,8.75],"labels":false,"ticks":false,"gridColor":{"condition":{"test":"datum.value % 2.5 == 0","value":"#FFFFFF"},"value":"#F2F2F2"},"gridWidth":{"condition":{"test":"datum.value % 2.5 == 0","value":1.6},"value":0.8},"title":null}}},"layer":[{"mark":{"type":"area","orient":"horizontal","fill":"#C49A00","stroke":"#C49A00"},"encoding":{"x":{"field":"w","type":"quantitative","scale":{"domain":[-74.9,74.9],"nice":false},"axis":{"values":[0],"title":"RlmC"}}}},{"mark":{"type":"area","orient":"horizontal","fill":"#C49A00","stroke":"#C49A00"},"encoding":{"x":{"field":"w","type":"quantitative","scale":{"domain":[-74.9,74.9],"nice":false,"reverse":true},"axis":null}}}]},
{"transform":[{"filter":{"field":"g","equal":"RlmD"}}],"width":74.9,"height":432,"resolve":{"scale":{"x":"independent"}},"encoding":{"y":{"field":"y","type":"quantitative","scale":{"domain":[2.45,9.62],"nice":false,"zero":false},"axis":{"values":[2.5,3.75,5,6.25,7.5,8.75],"labels":false,"ticks":false,"gridColor":{"condition":{"test":"datum.value % 2.5 == 0","value":"#FFFFFF"},"value":"#F2F2F2"},"gridWidth":{"condition":{"test":"datum.value % 2.5 == 0","value":1.6},"value":0.8},"title":null}}},"layer":[{"mark":{"type":"area","orient":"horizontal","fill":"#99A800","stroke":"#99A800"},"encoding":{"x":{"field":"w","type":"quantitative","scale":{"domain":[-74.9,74.9],"nice":false},"axis":{"values":[0],"title":"RlmD"}}}},{"mark":{"type":"area","orient":"horizontal","fill":"#99A800","stroke":"#99A800"},"encoding":{"x":{"field":"w","type":"quantitative","scale":{"domain":[-74.9,74.9],"nice":false,"reverse":true},"axis":null}}}]},
{"transform":[{"filter":{"field":"g","equal":"RlmE"}}],"width":74.9,"height":432,"resolve":{"scale":{"x":"independent"}},"encoding":{"y":{"field":"y","type":"quantitative","scale":{"domain":[2.45,9.62],"nice":false,"zero":false},"axis":{"values":[2.5,3.75,5,6.25,7.5,8.75],"labels":false,"ticks":false,"gridColor":{"condition":{"test":"datum.value % 2.5 == 0","value":"#FFFFFF"},"value":"#F2F2F2"},"gridWidth":{"condition":{"test":"datum.value % 2.5 == 0","value":1.6},"value":0.8},"title":null}}},"layer":[{"mark":{"type":"area","orient":"horizontal","fill":"#53B400","stroke":"#53B400"},"encoding":{"x":{"field":"w","type":"quantitative","scale":{"domain":[-74.9,74.9],"nice":false},"axis":{"values":[0],"title":"RlmE"}}}},{"mark":{"type":"area","orient":"horizontal","fill":"#53B400","stroke":"#53B400"},"encoding":{"x":{"field":"w","type":"quantitative","scale":{"domain":[-74.9,74.9],"nice":false,"reverse":true},"axis":null}}}]},
{"transform":[{"filter":{"field":"g","equal":"RlmF"}}],"width":74.9,"height":432,"resolve":{"scale":{"x":"independent"}},"encoding":{"y":{"field":"y","type":"quantitative","scale":{"domain":[2.45,9.62],"nice":false,"zero":false},"axis":{"values":[2.5,3.75,5,6.25,7.5,8.75],"labels":false,"ticks":false,"gridColor":{"condition":{"test":"datum.value % 2.5 == 0","value":"#FFFFFF"},"value":"#F2F2F2"},"gridWidth":{"condition":{"test":"datum.value % 2.5 == 0","value":1.6},"value":0.8},"title":null}}},"layer":[{"mark":{"type":"area","orient":"horizontal","fill":"#00BC56","stroke":"#00BC56"},"encoding":{"x":{"field":"w","type":"quantitative","scale":{"domain":[-74.9,74.9],"nice":false},"axis":{"values":[0],"title":"RlmF"}}}},{"mark":{"type":"area","orient":"horizontal","fill":"#00BC56","stroke":"#00BC56"},"encoding":{"x":{"field":"w","type":"quantitative","scale":{"domain":[-74.9,74.9],"nice":false,"reverse":true},"axis":null}}}]},
{"transform":[{"filter":{"field":"g","equal":"RlmG"}}],"width":74.9,"height":432,"resolve":{"scale":{"x":"independent"}},"encoding":{"y":{"field":"y","type":"quantitative","scale":{"domain":[2.45,9.62],"nice":false,"zero":false},"axis":{"values":[2.5,3.75,5,6.25,7.5,8.75],"labels":false,"ticks":false,"gridColor":{"condition":{"test":"datum.value % 2.5 == 0","value":"#FFFFFF"},"value":"#F2F2F2"},"gridWidth":{"condition":{"test":"datum.value % 2.5 == 0","value":1.6},"value":0.8},"title":null}}},"layer":[{"mark":{"type":"area","orient":"horizontal","fill":"#00C094","stroke":"#00C094"},"encoding":{"x":{"field":"w","type":"quantitative","scale":{"domain":[-74.9,74.9],"nice":false},"axis":{"values":[0],"title":"RlmG"}}}},{"mark":{"type":"area","orient":"horizontal","fill":"#00C094","stroke":"#00C094"},"encoding":{"x":{"field":"w","type":"quantitative","scale":{"domain":[-74.9,74.9],"nice":false,"reverse":true},"axis":null}}}]},
{"transform":[{"filter":{"field":"g","equal":"RlmH"}}],"width":74.9,"height":432,"resolve":{"scale":{"x":"independent"}},"encoding":{"y":{"field":"y","type":"quantitative","scale":{"domain":[2.45,9.62],"nice":false,"zero":false},"axis":{"values":[2.5,3.75,5,6.25,7.5,8.75],"labels":false,"ticks":false,"gridColor":{"condition":{"test":"datum.value % 2.5 == 0","value":"#FFFFFF"},"value":"#F2F2F2"},"gridWidth":{"condition":{"test":"datum.value % 2.5 == 0","value":1.6},"value":0.8},"title":null}}},"layer":[{"mark":{"type":"area","orient":"horizontal","fill":"#00BFC4","stroke":"#00BFC4"},"encoding":{"x":{"field":"w","type":"quantitative","scale":{"domain":[-74.9,74.9],"nice":false},"axis":{"values":[0],"title":"RlmH"}}}},{"mark":{"type":"area","orient":"horizontal","fill":"#00BFC4","stroke":"#00BFC4"},"encoding":{"x":{"field":"w","type":"quantitative","scale":{"domain":[-74.9,74.9],"nice":false,"reverse":true},"axis":null}}}]},
{"transform":[{"filter":{"field":"g","equal":"RlmI"}}],"width":74.9,"height":432,"resolve":{"scale":{"x":"independent"}},"encoding":{"y":{"field":"y","type":"quantitative","scale":{"domain":[2.45,9.62],"nice":false,"zero":false},"axis":{"values":[2.5,3.75,5,6.25,7.5,8.75],"labels":false,"ticks":false,"gridColor":{"condition":{"test":"datum.value % 2.5 == 0","value":"#FFFFFF"},"value":"#F2F2F2"},"gridWidth":{"condition":{"test":"datum.value % 2.5 == 0","value":1.6},"value":0.8},"title":null}}},"layer":[{"mark":{"type":"area","orient":"horizontal","fill":"#00B6EB","stroke":"#00B6EB"},"encoding":{"x":{"field":"w","type":"quantitative","scale":{"domain":[-74.9,74.9],"nice":false},"axis":{"values":[0],"title":"RlmI"}}}},{"mark":{"type":"area","orient":"horizontal","fill":"#00B6EB","stroke":"#00B6EB"},"encoding":{"x":{"field":"w","type":"quantitative","scale":{"domain":[-74.9,74.9],"nice":false,"reverse":true},"axis":null}}}]},
{"transform":[{"filter":{"field":"g","equal":"RlmJ"}}],"width":74.9,"height":432,"resolve":{"scale":{"x":"independent"}},"encoding":{"y":{"field":"y","type":"quantitative","scale":{"domain":[2.45,9.62],"nice":false,"zero":false},"axis":{"values":[2.5,3.75,5,6.25,7.5,8.75],"labels":false,"ticks":false,"gridColor":{"condition":{"test":"datum.value % 2.5 == 0","value":"#FFFFFF"},"value":"#F2F2F2"},"gridWidth":{"condition":{"test":"datum.value % 2.5 == 0","value":1.6},"value":0.8},"title":null}}},"layer":[{"mark":{"type":"area","orient":"horizontal","fill":"#06A4FF","stroke":"#06A4FF"},"encoding":{"x":{"field":"w","type":"quantitative","scale":{"domain":[-74.9,74.9],"nice":false},"axis":{"values":[0],"title":"RlmJ"}}}},{"mark":{"type":"area","orient":"horizontal","fill":"#06A4FF","stroke":"#06A4FF"},"encoding":{"x":{"field":"w","type":"quantitative","scale":{"domain":[-74.9,74.9],"nice":false,"reverse":true},"axis":null}}}]},
{"transform":[{"filter":{"field":"g","equal":"RlmL"}}],"width":74.9,"height":432,"resolve":{"scale":{"x":"independent"}},"encoding":{"y":{"field":"y","type":"quantitative","scale":{"domain":[2.45,9.62],"nice":false,"zero":false},"axis":{"values":[2.5,3.75,5,6.25,7.5,8.75],"labels":false,"ticks":false,"gridColor":{"condition":{"test":"datum.value % 2.5 == 0","value":"#FFFFFF"},"value":"#F2F2F2"},"gridWidth":{"condition":{"test":"datum.value % 2.5 == 0","value":1.6},"value":0.8},"title":null}}},"layer":[{"mark":{"type":"area","orient":"horizontal","fill":"#A58AFF","stroke":"#A58AFF"},"encoding":{"x":{"field":"w","type":"quantitative","scale":{"domain":[-74.9,74.9],"nice":false},"axis":{"values":[0],"title":"RlmL"}}}},{"mark":{"type":"area","orient":"horizontal","fill":"#A58AFF","stroke":"#A58AFF"},"encoding":{"x":{"field":"w","type":"quantitative","scale":{"domain":[-74.9,74.9],"nice":false,"reverse":true},"axis":null}}}]},
{"transform":[{"filter":{"field":"g","equal":"RlmK"}}],"width":74.9,"height":432,"resolve":{"scale":{"x":"independent"}},"encoding":{"y":{"field":"y","type":"quantitative","scale":{"domain":[2.45,9.62],"nice":false,"zero":false},"axis":{"values":[2.5,3.75,5,6.25,7.5,8.75],"labels":false,"ticks":false,"gridColor":{"condition":{"test":"datum.value % 2.5 == 0","value":"#FFFFFF"},"value":"#F2F2F2"},"gridWidth":{"condition":{"test":"datum.value % 2.5 == 0","value":1.6},"value":0.8},"title":null}}},"layer":[{"mark":{"type":"area","orient":"horizontal","fill":"#DF70F8","stroke":"#DF70F8"},"encoding":{"x":{"field":"w","type":"quantitative","scale":{"domain":[-74.9,74.9],"nice":false},"axis":{"values":[0],"title":"RlmK"}}}},{"mark":{"type":"area","orient":"horizontal","fill":"#DF70F8","stroke":"#DF70F8"},"encoding":{"x":{"field":"w","type":"quantitative","scale":{"domain":[-74.9,74.9],"nice":false,"reverse":true},"axis":null}}}]},
{"transform":[{"filter":{"field":"g","equal":"RlmM"}}],"width":74.9,"height":432,"resolve":{"scale":{"x":"independent"}},"encoding":{"y":{"field":"y","type":"quantitative","scale":{"domain":[2.45,9.62],"nice":false,"zero":false},"axis":{"values":[2.5,3.75,5,6.25,7.5,8.75],"labels":false,"ticks":false,"gridColor":{"condition":{"test":"datum.value % 2.5 == 0","value":"#FFFFFF"},"value":"#F2F2F2"},"gridWidth":{"condition":{"test":"datum.value % 2.5 == 0","value":1.6},"value":0.8},"title":null}}},"layer":[{"mark":{"type":"area","orient":"horizontal","fill":"#FB61D7","stroke":"#FB61D7"},"encoding":{"x":{"field":"w","type":"quantitative","scale":{"domain":[-74.9,74.9],"nice":false},"axis":{"values":[0],"title":"RlmM"}}}},{"mark":{"type":"area","orient":"horizontal","fill":"#FB61D7","stroke":"#FB61D7"},"encoding":{"x":{"field":"w","type":"quantitative","scale":{"domain":[-74.9,74.9],"nice":false,"reverse":true},"axis":null}}}]},
{"transform":[{"filter":{"field":"g","equal":"RlmN"}}],"width":74.9,"height":432,"resolve":{"scale":{"x":"independent"}},"encoding":{"y":{"field":"y","type":"quantitative","scale":{"domain":[2.45,9.62],"nice":false,"zero":false},"axis":{"values":[2.5,3.75,5,6.25,7.5,8.75],"labels":false,"ticks":false,"gridColor":{"condition":{"test":"datum.value % 2.5 == 0","value":"#FFFFFF"},"value":"#F2F2F2"},"gridWidth":{"condition":{"test":"datum.value % 2.5 == 0","value":1.6},"value":0.8},"title":null}}},"layer":[{"mark":{"type":"area","orient":"horizontal","fill":"#FF66A8","stroke":"#FF66A8"},"encoding":{"x":{"field":"w","type":"quantitative","scale":{"domain":[-74.9,74.9],"nice":false},"axis":{"values":[0],"title":"RlmN"}}}},{"mark":{"type":"area","orient":"horizontal","fill":"#FF66A8","stroke":"#FF66A8"},"encoding":{"x":{"field":"w","type":"quantitative","scale":{"domain":[-74.9,74.9],"nice":false,"reverse":true},"axis":null}}}]}
]
},
{
"data": {"name": "p3"},
"title": {"text": "tRNA MTases", "fontSize": 41, "fontWeight": "bold", "color": "#000", "anchor": "middle", "offset": 26, "dx": 18},
"spacing": 0,
"resolve": {"scale": {"x": "independent", "y": "independent"}},
"hconcat": [
{"transform":[{"filter":{"field":"g","equal":"CmoA"}}],"width":94.9,"height":432,"resolve":{"scale":{"x":"independent"}},"encoding":{"y":{"field":"y","type":"quantitative","scale":{"domain":[2.45,9.62],"nice":false,"zero":false},"axis":{"values":[2.5,3.75,5,6.25,7.5,8.75],"labelExpr":"datum.value % 2.5 == 0 ? format(datum.value, '.1f') : ''","gridColor":{"condition":{"test":"datum.value % 2.5 == 0","value":"#FFFFFF"},"value":"#F2F2F2"},"gridWidth":{"condition":{"test":"datum.value % 2.5 == 0","value":1.6},"value":0.8},"tickColor":{"condition":{"test":"datum.value % 2.5 == 0","value":"#444"},"value":"transparent"},"title":null}}},"layer":[{"mark":{"type":"area","orient":"horizontal","fill":"#F8766D","stroke":"#F8766D"},"encoding":{"x":{"field":"w","type":"quantitative","scale":{"domain":[-94.9,94.9],"nice":false},"axis":{"values":[0],"title":"CmoA"}}}},{"mark":{"type":"area","orient":"horizontal","fill":"#F8766D","stroke":"#F8766D"},"encoding":{"x":{"field":"w","type":"quantitative","scale":{"domain":[-94.9,94.9],"nice":false,"reverse":true},"axis":null}}}]},
{"transform":[{"filter":{"field":"g","equal":"CmoB"}}],"width":94.9,"height":432,"resolve":{"scale":{"x":"independent"}},"encoding":{"y":{"field":"y","type":"quantitative","scale":{"domain":[2.45,9.62],"nice":false,"zero":false},"axis":{"values":[2.5,3.75,5,6.25,7.5,8.75],"labels":false,"ticks":false,"gridColor":{"condition":{"test":"datum.value % 2.5 == 0","value":"#FFFFFF"},"value":"#F2F2F2"},"gridWidth":{"condition":{"test":"datum.value % 2.5 == 0","value":1.6},"value":0.8},"title":null}}},"layer":[{"mark":{"type":"area","orient":"horizontal","fill":"#DB8E00","stroke":"#DB8E00"},"encoding":{"x":{"field":"w","type":"quantitative","scale":{"domain":[-94.9,94.9],"nice":false},"axis":{"values":[0],"title":"CmoB"}}}},{"mark":{"type":"area","orient":"horizontal","fill":"#DB8E00","stroke":"#DB8E00"},"encoding":{"x":{"field":"w","type":"quantitative","scale":{"domain":[-94.9,94.9],"nice":false,"reverse":true},"axis":null}}}]},
{"transform":[{"filter":{"field":"g","equal":"MnmC*"}}],"width":94.9,"height":432,"resolve":{"scale":{"x":"independent"}},"encoding":{"y":{"field":"y","type":"quantitative","scale":{"domain":[2.45,9.62],"nice":false,"zero":false},"axis":{"values":[2.5,3.75,5,6.25,7.5,8.75],"labels":false,"ticks":false,"gridColor":{"condition":{"test":"datum.value % 2.5 == 0","value":"#FFFFFF"},"value":"#F2F2F2"},"gridWidth":{"condition":{"test":"datum.value % 2.5 == 0","value":1.6},"value":0.8},"title":null}}},"layer":[{"mark":{"type":"area","orient":"horizontal","fill":"#AEA200","stroke":"#AEA200"},"encoding":{"x":{"field":"w","type":"quantitative","scale":{"domain":[-94.9,94.9],"nice":false},"axis":{"values":[0],"title":"MnmC*"}}}},{"mark":{"type":"area","orient":"horizontal","fill":"#AEA200","stroke":"#AEA200"},"encoding":{"x":{"field":"w","type":"quantitative","scale":{"domain":[-94.9,94.9],"nice":false,"reverse":true},"axis":null}}}]},
{"transform":[{"filter":{"field":"g","equal":"RlmN"}}],"width":94.9,"height":432,"resolve":{"scale":{"x":"independent"}},"encoding":{"y":{"field":"y","type":"quantitative","scale":{"domain":[2.45,9.62],"nice":false,"zero":false},"axis":{"values":[2.5,3.75,5,6.25,7.5,8.75],"labels":false,"ticks":false,"gridColor":{"condition":{"test":"datum.value % 2.5 == 0","value":"#FFFFFF"},"value":"#F2F2F2"},"gridWidth":{"condition":{"test":"datum.value % 2.5 == 0","value":1.6},"value":0.8},"title":null}}},"layer":[{"mark":{"type":"area","orient":"horizontal","fill":"#64B200","stroke":"#64B200"},"encoding":{"x":{"field":"w","type":"quantitative","scale":{"domain":[-94.9,94.9],"nice":false},"axis":{"values":[0],"title":"RlmN"}}}},{"mark":{"type":"area","orient":"horizontal","fill":"#64B200","stroke":"#64B200"},"encoding":{"x":{"field":"w","type":"quantitative","scale":{"domain":[-94.9,94.9],"nice":false,"reverse":true},"axis":null}}}]},
{"transform":[{"filter":{"field":"g","equal":"TrmA"}}],"width":94.9,"height":432,"resolve":{"scale":{"x":"independent"}},"encoding":{"y":{"field":"y","type":"quantitative","scale":{"domain":[2.45,9.62],"nice":false,"zero":false},"axis":{"values":[2.5,3.75,5,6.25,7.5,8.75],"labels":false,"ticks":false,"gridColor":{"condition":{"test":"datum.value % 2.5 == 0","value":"#FFFFFF"},"value":"#F2F2F2"},"gridWidth":{"condition":{"test":"datum.value % 2.5 == 0","value":1.6},"value":0.8},"title":null}}},"layer":[{"mark":{"type":"area","orient":"horizontal","fill":"#00BD5C","stroke":"#00BD5C"},"encoding":{"x":{"field":"w","type":"quantitative","scale":{"domain":[-94.9,94.9],"nice":false},"axis":{"values":[0],"title":"TrmA"}}}},{"mark":{"type":"area","orient":"horizontal","fill":"#00BD5C","stroke":"#00BD5C"},"encoding":{"x":{"field":"w","type":"quantitative","scale":{"domain":[-94.9,94.9],"nice":false,"reverse":true},"axis":null}}}]},
{"transform":[{"filter":{"field":"g","equal":"TrmB"}}],"width":94.9,"height":432,"resolve":{"scale":{"x":"independent"}},"encoding":{"y":{"field":"y","type":"quantitative","scale":{"domain":[2.45,9.62],"nice":false,"zero":false},"axis":{"values":[2.5,3.75,5,6.25,7.5,8.75],"labels":false,"ticks":false,"gridColor":{"condition":{"test":"datum.value % 2.5 == 0","value":"#FFFFFF"},"value":"#F2F2F2"},"gridWidth":{"condition":{"test":"datum.value % 2.5 == 0","value":1.6},"value":0.8},"title":null}}},"layer":[{"mark":{"type":"area","orient":"horizontal","fill":"#00C1A7","stroke":"#00C1A7"},"encoding":{"x":{"field":"w","type":"quantitative","scale":{"domain":[-94.9,94.9],"nice":false},"axis":{"values":[0],"title":"TrmB"}}}},{"mark":{"type":"area","orient":"horizontal","fill":"#00C1A7","stroke":"#00C1A7"},"encoding":{"x":{"field":"w","type":"quantitative","scale":{"domain":[-94.9,94.9],"nice":false,"reverse":true},"axis":null}}}]},
{"transform":[{"filter":{"field":"g","equal":"TrmD"}}],"width":94.9,"height":432,"resolve":{"scale":{"x":"independent"}},"encoding":{"y":{"field":"y","type":"quantitative","scale":{"domain":[2.45,9.62],"nice":false,"zero":false},"axis":{"values":[2.5,3.75,5,6.25,7.5,8.75],"labels":false,"ticks":false,"gridColor":{"condition":{"test":"datum.value % 2.5 == 0","value":"#FFFFFF"},"value":"#F2F2F2"},"gridWidth":{"condition":{"test":"datum.value % 2.5 == 0","value":1.6},"value":0.8},"title":null}}},"layer":[{"mark":{"type":"area","orient":"horizontal","fill":"#00BADE","stroke":"#00BADE"},"encoding":{"x":{"field":"w","type":"quantitative","scale":{"domain":[-94.9,94.9],"nice":false},"axis":{"values":[0],"title":"TrmD"}}}},{"mark":{"type":"area","orient":"horizontal","fill":"#00BADE","stroke":"#00BADE"},"encoding":{"x":{"field":"w","type":"quantitative","scale":{"domain":[-94.9,94.9],"nice":false,"reverse":true},"axis":null}}}]},
{"transform":[{"filter":{"field":"g","equal":"TrmH"}}],"width":94.9,"height":432,"resolve":{"scale":{"x":"independent"}},"encoding":{"y":{"field":"y","type":"quantitative","scale":{"domain":[2.45,9.62],"nice":false,"zero":false},"axis":{"values":[2.5,3.75,5,6.25,7.5,8.75],"labels":false,"ticks":false,"gridColor":{"condition":{"test":"datum.value % 2.5 == 0","value":"#FFFFFF"},"value":"#F2F2F2"},"gridWidth":{"condition":{"test":"datum.value % 2.5 == 0","value":1.6},"value":0.8},"title":null}}},"layer":[{"mark":{"type":"area","orient":"horizontal","fill":"#00A6FF","stroke":"#00A6FF"},"encoding":{"x":{"field":"w","type":"quantitative","scale":{"domain":[-94.9,94.9],"nice":false},"axis":{"values":[0],"title":"TrmH"}}}},{"mark":{"type":"area","orient":"horizontal","fill":"#00A6FF","stroke":"#00A6FF"},"encoding":{"x":{"field":"w","type":"quantitative","scale":{"domain":[-94.9,94.9],"nice":false,"reverse":true},"axis":null}}}]},
{"transform":[{"filter":{"field":"g","equal":"TrmJ"}}],"width":94.9,"height":432,"resolve":{"scale":{"x":"independent"}},"encoding":{"y":{"field":"y","type":"quantitative","scale":{"domain":[2.45,9.62],"nice":false,"zero":false},"axis":{"values":[2.5,3.75,5,6.25,7.5,8.75],"labels":false,"ticks":false,"gridColor":{"condition":{"test":"datum.value % 2.5 == 0","value":"#FFFFFF"},"value":"#F2F2F2"},"gridWidth":{"condition":{"test":"datum.value % 2.5 == 0","value":1.6},"value":0.8},"title":null}}},"layer":[{"mark":{"type":"area","orient":"horizontal","fill":"#B385FF","stroke":"#B385FF"},"encoding":{"x":{"field":"w","type":"quantitative","scale":{"domain":[-94.9,94.9],"nice":false},"axis":{"values":[0],"title":"TrmJ"}}}},{"mark":{"type":"area","orient":"horizontal","fill":"#B385FF","stroke":"#B385FF"},"encoding":{"x":{"field":"w","type":"quantitative","scale":{"domain":[-94.9,94.9],"nice":false,"reverse":true},"axis":null}}}]},
{"transform":[{"filter":{"field":"g","equal":"TrmL"}}],"width":94.9,"height":432,"resolve":{"scale":{"x":"independent"}},"encoding":{"y":{"field":"y","type":"quantitative","scale":{"domain":[2.45,9.62],"nice":false,"zero":false},"axis":{"values":[2.5,3.75,5,6.25,7.5,8.75],"labels":false,"ticks":false,"gridColor":{"condition":{"test":"datum.value % 2.5 == 0","value":"#FFFFFF"},"value":"#F2F2F2"},"gridWidth":{"condition":{"test":"datum.value % 2.5 == 0","value":1.6},"value":0.8},"title":null}}},"layer":[{"mark":{"type":"area","orient":"horizontal","fill":"#EF67EB","stroke":"#EF67EB"},"encoding":{"x":{"field":"w","type":"quantitative","scale":{"domain":[-94.9,94.9],"nice":false},"axis":{"values":[0],"title":"TrmL"}}}},{"mark":{"type":"area","orient":"horizontal","fill":"#EF67EB","stroke":"#EF67EB"},"encoding":{"x":{"field":"w","type":"quantitative","scale":{"domain":[-94.9,94.9],"nice":false,"reverse":true},"axis":null}}}]},
{"transform":[{"filter":{"field":"g","equal":"TrmN6"}}],"width":94.9,"height":432,"resolve":{"scale":{"x":"independent"}},"encoding":{"y":{"field":"y","type":"quantitative","scale":{"domain":[2.45,9.62],"nice":false,"zero":false},"axis":{"values":[2.5,3.75,5,6.25,7.5,8.75],"labels":false,"ticks":false,"gridColor":{"condition":{"test":"datum.value % 2.5 == 0","value":"#FFFFFF"},"value":"#F2F2F2"},"gridWidth":{"condition":{"test":"datum.value % 2.5 == 0","value":1.6},"value":0.8},"title":null}}},"layer":[{"mark":{"type":"area","orient":"horizontal","fill":"#FF63B6","stroke":"#FF63B6"},"encoding":{"x":{"field":"w","type":"quantitative","scale":{"domain":[-94.9,94.9],"nice":false},"axis":{"values":[0],"title":"TrmN6"}}}},{"mark":{"type":"area","orient":"horizontal","fill":"#FF63B6","stroke":"#FF63B6"},"encoding":{"x":{"field":"w","type":"quantitative","scale":{"domain":[-94.9,94.9],"nice":false,"reverse":true},"axis":null}}}]}
]
}
],
"config": {
"font": "Liberation Sans",
"view": {"fill": "#E5E5E5", "stroke": null},
"title": {"font": "Liberation Sans"},
"area": {"fillOpacity": 0.6, "strokeWidth": 1, "strokeOpacity": 0.85},
"axisX": {"grid": true, "gridColor": "#FFFFFF", "gridWidth": 1.6, "labels": false, "ticks": false, "domain": false, "titleFontSize": 23, "titleFontWeight": "bold", "titleColor": "#000", "titlePadding": 17, "titleFont": "Liberation Sans"},
"axisY": {"domain": false, "tickSize": 4, "labelFontSize": 22, "labelColor": "#1a1a1a", "labelPadding": 14, "labelFont": "Liberation Sans"}
}
}
